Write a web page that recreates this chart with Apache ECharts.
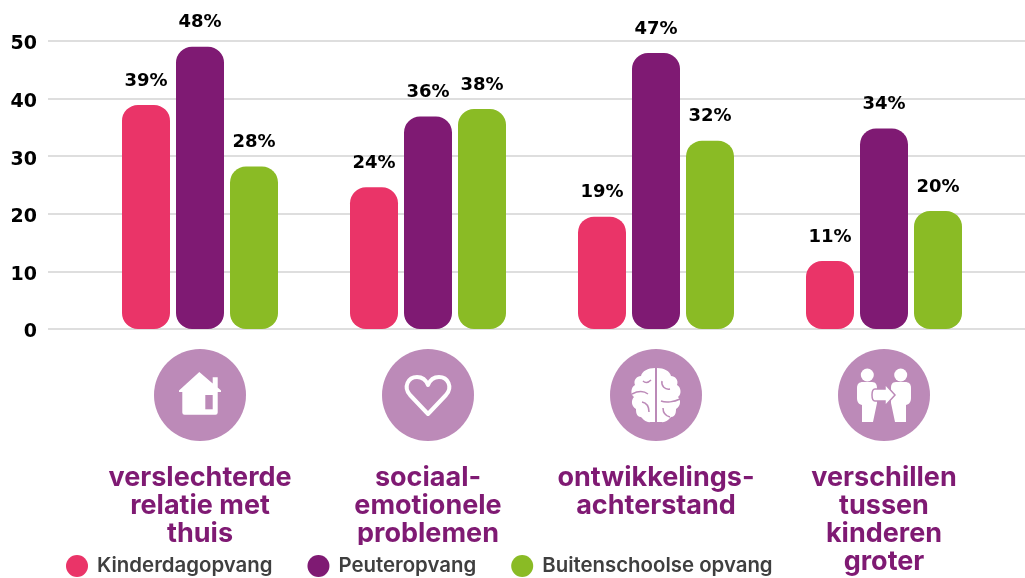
<!DOCTYPE html>
<html><head><meta charset="utf-8">
<style>html,body{margin:0;padding:0;background:#fff}#c{width:1025px;height:578px}</style>
<script src="https://cdn.jsdelivr.net/npm/echarts@6/dist/echarts.min.js"></script>
</head><body><div id="c"></div>
<script>
const categories = ["verslechterde\nrelatie met\nthuis","sociaal-\nemotionele\nproblemen","ontwikkelings-\nachterstand","verschillen\ntussen\nkinderen\ngroter"];
const seriesNames = ["Kinderdagopvang","Peuteropvang","Buitenschoolse opvang"];
const kinderdagopvang = [38.9,24.6,19.5,11.8];
const peuteropvang = [49,36.9,47.9,34.8];
const buitenschoolse = [28.2,38.2,32.7,20.5];
const labelsKinder = ["39%","24%","19%","11%"];
const labelsPeuter = ["48%","36%","47%","34%"];
const labelsBuiten = ["28%","38%","32%","20%"];
const colors = ["#EA3468","#7F1A73","#8ABB25"];
const yTicks = [0,10,20,30,40,50];

const chart = echarts.init(document.getElementById('c'),null,{renderer:'canvas'});
const FONT_NUM = 'DejaVu Sans';
const FONT_CAT = 'Inter';
const circle = '#BC8AB8';
const centers = [200,428,656,884], cy = 395;
const icons = {
  iconHouse:'M-0.7,-23 L12.7,-11.5 L12.7,-17.7 L17.7,-17.7 L17.7,-7.5 L21,-4.5 L21,-3 L17.7,-3 L17.7,17.5 Q17.7,19.7 15.5,19.7 L-15.5,19.7 Q-17.7,19.7 -17.7,17.5 L-17.7,-3 L-21,-3 L-21,-4.5 Z',
  iconHeart:'M0,19 L-18,0 C-25,-8 -20,-18 -11,-18 C-6,-18 -2,-15 0,-10 C2,-15 6,-18 11,-18 C20,-18 25,-8 18,0 Z',
  iconBrain:'M-1,-27 L-1,27 L-5,27 C-10,28 -13,24 -15,22 C-20,22 -20,16 -20,14 C-25,11 -25,5 -22,2 C-26,-1 -25,-8 -21,-10 C-23,-15 -19,-19 -15,-19 C-14,-24 -8,-27 -1,-27 Z M1,-27 C8,-27 14,-24 15,-19 C19,-19 23,-15 21,-10 C25,-8 26,-1 22,2 C25,5 25,11 20,14 C20,16 20,22 15,22 C13,24 10,28 5,27 L1,27 Z',
  iconBrainLines:'M-13,-14 C-11,-12 -8,-12 -5,-15 M-24,-1 C-18,-4 -12,-4 -8,-1 M-14,7 C-9,8 -7,12 -7,17 M6,-14 C5,-9 9,-5 14,-6 M5,6 C10,8 18,7 24,4 M7,13 C7,18 10,21 14,22',
  iconPersonL:'M-21,-13 L-12,-13 C-8,-13 -7,-10 -7,-7 L-7,8 L-11,27 L-22,27 L-22,10 C-26,9 -27,6 -27,3 L-27,-7 C-27,-11 -25,-13 -21,-13 Z',
  iconPersonR:'M21,-13 L12,-13 C8,-13 7,-10 7,-7 L7,8 L11,27 L22,27 L22,10 C26,9 27,6 27,3 L27,-7 C27,-11 25,-13 21,-13 Z',
  iconArrow:'M-9,-6 L1,-6 L1,-11 L11,0 L1,11 L1,6 L-9,6 C-13,6 -13,-6 -9,-6 Z'
};
Object.keys(icons).forEach(k=>echarts.graphic.registerShape(k,echarts.graphic.extendPath(icons[k])));

function bar(i,data,labels){
  return {name:seriesNames[i],type:'bar',xAxisIndex:1,yAxisIndex:1,data,barWidth:48,barGap:'12.5%',
    itemStyle:{color:colors[i],borderRadius:16},
    label:{show:true,position:'top',distance:15,color:'#000',fontFamily:FONT_NUM,fontWeight:'bold',fontSize:18,
      formatter:p=>labels[p.dataIndex]}};
}
const g = [];
centers.forEach(x=>g.push({type:'circle',z:5,shape:{cx:x,cy,r:46},style:{fill:circle}}));
g.push({type:'iconHouse',z:6,x:centers[0],y:cy,style:{fill:'#fff'}});
g.push({type:'rect',z:7,shape:{x:centers[0]+5.3,y:cy,width:7.4,height:14.3},style:{fill:circle}});
g.push({type:'iconHeart',z:6,x:centers[1],y:cy,style:{fill:'none',stroke:'#fff',lineWidth:4,lineJoin:'round'}});
g.push({type:'iconBrain',z:6,x:centers[2],y:cy,style:{fill:'#fff'}});
g.push({type:'iconBrainLines',z:7,x:centers[2],y:cy,style:{fill:'none',stroke:circle,lineWidth:1.5}});
const p = centers[3];
g.push({type:'circle',z:6,shape:{cx:p-16.7,cy:cy-20,r:6.5},style:{fill:'#fff'}});
g.push({type:'circle',z:6,shape:{cx:p+16.7,cy:cy-20,r:6.5},style:{fill:'#fff'}});
g.push({type:'iconPersonL',z:6,x:p,y:cy,style:{fill:'#fff'}});
g.push({type:'iconPersonR',z:6,x:p,y:cy,style:{fill:'#fff'}});
g.push({type:'iconArrow',z:7,x:p,y:cy,style:{fill:'#fff',stroke:circle,lineWidth:1.5}});
g.push({type:'rect',z:50,shape:{x:50,y:545,width:740,height:33},style:{fill:'#fff'}});

chart.setOption({
  animation:false,
  textStyle:{fontFamily:FONT_NUM},
  grid:[{left:48,right:0,top:41,height:288},{left:86,width:912,top:41,height:288}],
  legend:{left:66,top:555,z:60,itemWidth:22,itemHeight:22,itemGap:35,icon:'circle',data:seriesNames,padding:0,selectedMode:false,
    textStyle:{color:'#3f3f3f',fontFamily:FONT_CAT,fontWeight:600,fontSize:20.4,padding:[0,0,0,4]}},
  xAxis:[
    {gridIndex:0,type:'value',min:0,max:1,show:false},
    {gridIndex:1,type:'category',data:categories,axisLine:{show:false},axisTick:{show:false},
     axisLabel:{interval:0,margin:135,color:'#7F1A73',fontFamily:FONT_CAT,fontWeight:'bold',fontSize:27,lineHeight:28,align:'center',verticalAlign:'top'}}
  ],
  yAxis:[
    {gridIndex:0,type:'value',min:0,max:50,interval:10,axisLine:{show:false},axisTick:{show:false},
     splitLine:{show:true,lineStyle:{color:'#dedede',width:2}},
     axisLabel:{margin:11,color:'#000',fontFamily:FONT_NUM,fontWeight:'bold',fontSize:19,verticalAlign:'top',lineHeight:7,
       formatter:v=>yTicks.includes(v)?String(v):''}},
    {gridIndex:1,type:'value',min:0,max:50,interval:10,show:false}
  ],
  series:[bar(0,kinderdagopvang,labelsKinder),bar(1,peuteropvang,labelsPeuter),bar(2,buitenschoolse,labelsBuiten)],
  graphic:g
});
</script></body></html>
